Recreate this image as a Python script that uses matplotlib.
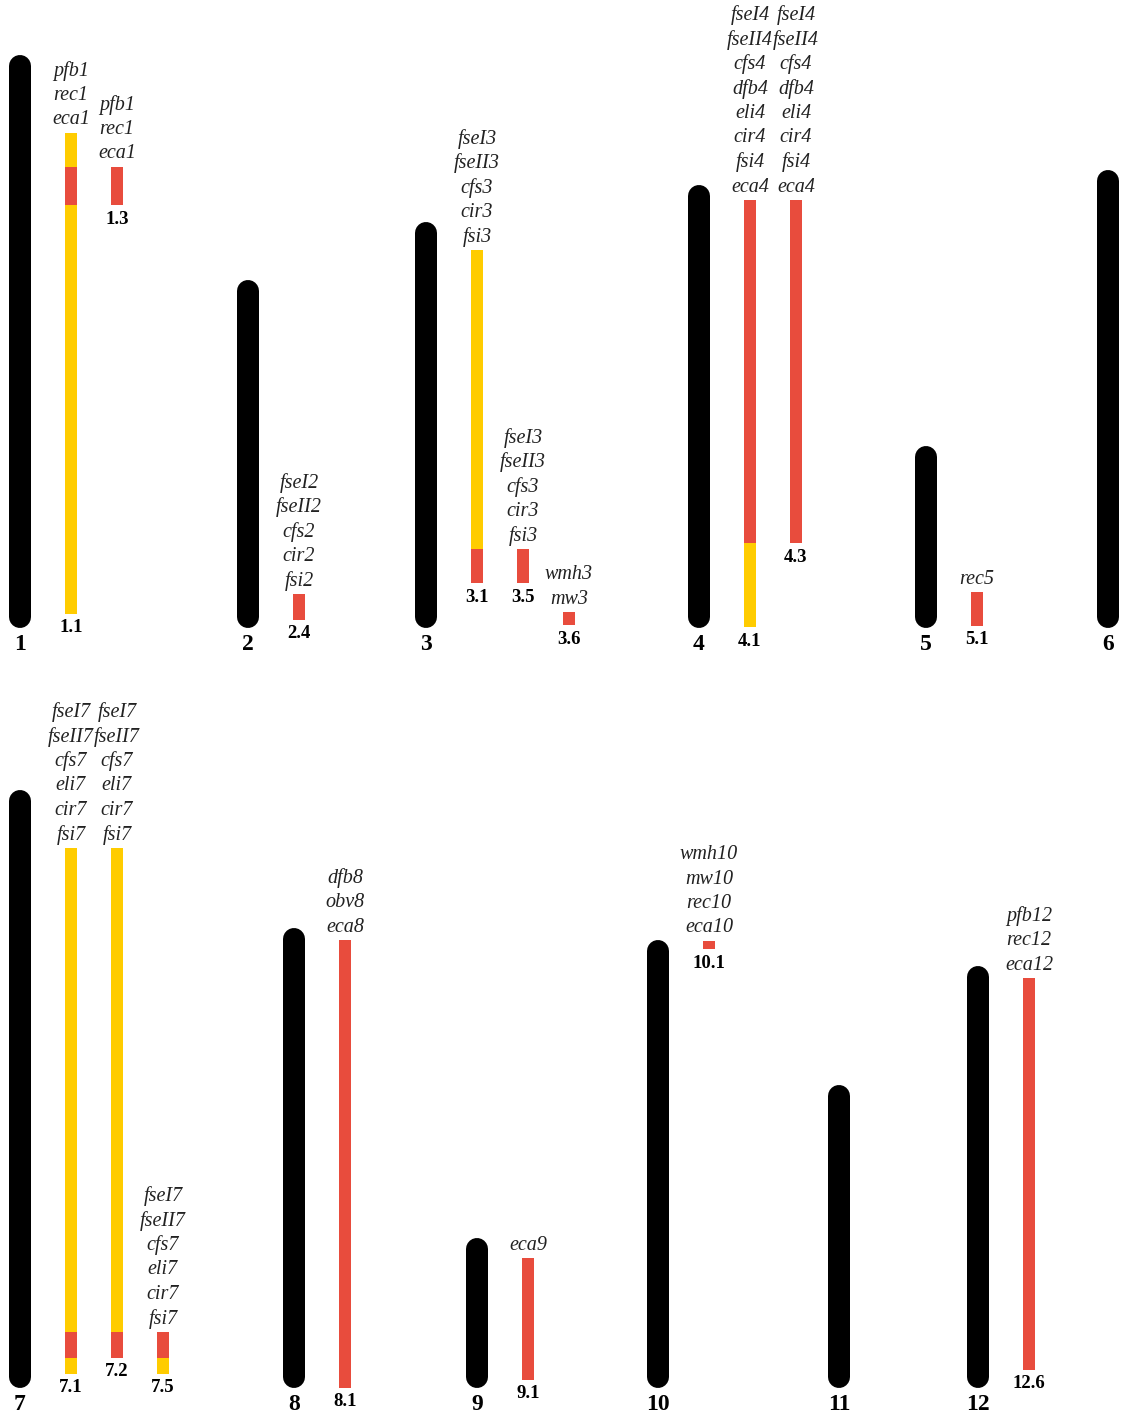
import matplotlib.pyplot as plt

plt.rcParams['font.family'] = ['Liberation Serif', 'DejaVu Serif']

# chromosome lengths in map units (0 = top end of the chromosome)
chromosomes = ['1', '2', '3', '4', '5', '6', '7', '8', '9', '10', '11', '12']
chrom_length = [551, 326, 384, 421, 160, 436, 576, 438, 128, 426, 281, 400]

# QTL clusters: name, chromosome, segments (start, end, class), traits
qtl_names = ['1.1', '1.3', '2.4', '3.1', '3.5', '3.6', '4.1', '4.3', '5.1',
             '7.1', '7.2', '7.5', '8.1', '9.1', '10.1', '12.6']
qtl_chrom = ['1', '1', '2', '3', '3', '3', '4', '4', '5',
             '7', '7', '7', '8', '9', '10', '12']
qtl_segments = [
    [(67, 101, 'b'), (101, 139, 'a'), (139, 548, 'b')],
    [(101, 139, 'a')],
    [(303, 329, 'a')],
    [(17, 316, 'b'), (316, 350, 'a')],
    [(316, 350, 'a')],
    [(379, 392, 'a')],
    [(4, 347, 'a'), (347, 431, 'b')],
    [(4, 347, 'a')],
    [(135, 169, 'a')],
    [(47, 531, 'b'), (531, 557, 'a'), (557, 573, 'b')],
    [(47, 531, 'b'), (531, 557, 'a')],
    [(531, 557, 'a'), (557, 573, 'b')],
    [(1, 449, 'a')],
    [(9, 131, 'a')],
    [(-10, -2, 'a')],
    [(1, 393, 'a')],
]
traits_1 = ['pfb1', 'rec1', 'eca1']
traits_3 = ['fseI3', 'fseII3', 'cfs3', 'cir3', 'fsi3']
traits_4 = ['fseI4', 'fseII4', 'cfs4', 'dfb4', 'eli4', 'cir4', 'fsi4', 'eca4']
traits_7 = ['fseI7', 'fseII7', 'cfs7', 'eli7', 'cir7', 'fsi7']
qtl_traits = [
    traits_1, traits_1,
    ['fseI2', 'fseII2', 'cfs2', 'cir2', 'fsi2'],
    traits_3, traits_3, ['wmh3', 'mw3'],
    traits_4, traits_4,
    ['rec5'],
    traits_7, traits_7, traits_7,
    ['dfb8', 'obv8', 'eca8'],
    ['eca9'],
    ['wmh10', 'mw10', 'rec10', 'eca10'],
    ['pfb12', 'rec12', 'eca12'],
]

# layout (pixels)
W, H = 1121, 1414
chrom_x = [20, 248, 426, 699, 926, 1108, 20, 294, 477, 658, 839, 978]
seg_colors = {'a': '#E84C3D', 'b': '#FFCC00'}
PX = 0.72  # points per pixel at dpi 100

fig = plt.figure(figsize=(W / 100, H / 100), dpi=100)
split = 700
ax_top = fig.add_axes([0, 1 - split / H, 1, split / H])
ax_bot = fig.add_axes([0, 0, 1, 1 - split / H])
ax_top.set_ylim(617 - split, 617)
ax_bot.set_ylim(1377 - H, 1377 - split)
for ax in (ax_top, ax_bot):
    ax.set_xlim(0, W)
    ax.axis('off')

panel = {}
for i, c in enumerate(chromosomes):
    ax = ax_top if i < 6 else ax_bot
    panel[c] = ax
    L = chrom_length[i]
    x = chrom_x[i]
    ax.plot([x, x], [0, L], color='black', lw=22 * PX,
            solid_capstyle='round')
    ax.annotate(c, (x, 0), xytext=(0, -28 * PX), textcoords='offset points',
                ha='center', va='center', fontsize=17, fontweight='bold')

col_count = {}
for name, c, segs, traits in zip(qtl_names, qtl_chrom, qtl_segments, qtl_traits):
    ci = chromosomes.index(c)
    L = chrom_length[ci]
    k = col_count.get(c, 0)
    col_count[c] = k + 1
    x = chrom_x[ci] + 51 + 46 * k
    ax = panel[c]
    for s, e, cls in segs:
        ax.bar(x, e - s, bottom=L - e, width=12, color=seg_colors[cls],
               linewidth=0)
    top = L - segs[0][0]
    bottom = L - segs[-1][1]
    for j, t in enumerate(reversed(traits)):
        ax.annotate(t, (x, top), xytext=(0, (13 + 24.5 * j) * PX),
                    textcoords='offset points', ha='center', va='center',
                    fontsize=14.5, fontstyle='italic', color='#222222')
    ax.annotate(name, (x, bottom), xytext=(0, -14 * PX),
                textcoords='offset points', ha='center', va='center',
                fontsize=13.5, fontweight='bold')

fig.savefig('out.png', dpi=100, facecolor='white')
